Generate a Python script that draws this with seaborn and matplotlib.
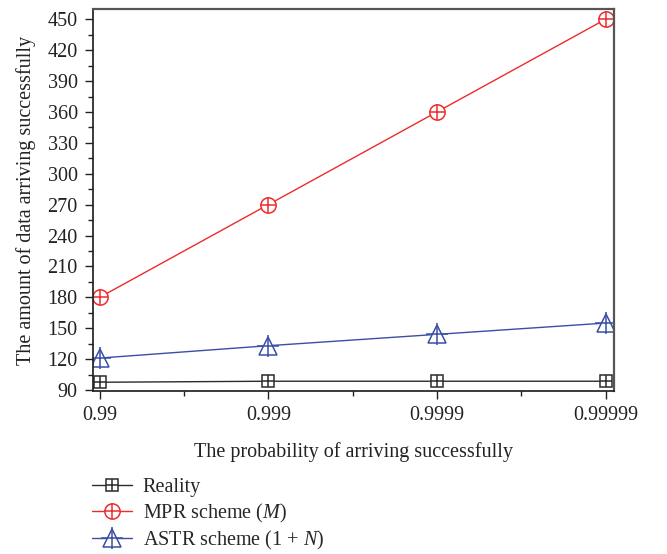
import numpy as np
import pandas as pd
import matplotlib
matplotlib.use('Agg')
import matplotlib.pyplot as plt
import seaborn as sns
from matplotlib.legend_handler import HandlerTuple
from matplotlib.ticker import MultipleLocator

# Data
probabilities = ['0.99', '0.999', '0.9999', '0.99999']
reality = [97.5, 98.5, 98.5, 98.5]
mpr = [180, 270, 360, 450]
astr = [121, 133, 144, 155]

series_names = ['Reality', 'MPR scheme ($M$)', 'ASTR scheme (1 + $N$)']
series_values = [reality, mpr, astr]
colors = ['#2b2b2b', '#ee2b2b', '#3a4ea6']
markers = ['s', 'o', '^']
msizes = [9, 11, 12.5]

sns.set_theme(style='ticks')
plt.rcParams['font.family'] = ['Liberation Serif', 'DejaVu Serif']
plt.rcParams['mathtext.fontset'] = 'custom'
plt.rcParams['mathtext.it'] = 'Liberation Serif:italic'
plt.rcParams['mathtext.rm'] = 'Liberation Serif'

fig = plt.figure(figsize=(6.67, 5.54), dpi=100)
ax = fig.add_axes([0.1394, 0.2942, 0.7811, 0.6896])

x = np.arange(len(probabilities))
handles = []
for name, vals, c, m, ms in zip(series_names, series_values, colors, markers, msizes):
    df = pd.DataFrame({'x': x, 'y': vals})
    sns.lineplot(data=df, x='x', y='y', ax=ax, color=c, linewidth=1.0,
                 marker=m, markersize=ms, markerfacecolor='white',
                 markeredgecolor=c, markeredgewidth=1.1)
    line = ax.lines[-1]
    plus, = ax.plot(df['x'], df['y'], linestyle='none', marker='+',
                    markersize=ms * (1.25 if m == '^' else 1.0),
                    color=c, markeredgewidth=1.1)
    handles.append((line, plus))

ax.set_xlim(-0.04, 3.05)
ax.set_ylim(89, 460)
ax.set_xticks(x)
ax.set_xticklabels(probabilities)
ax.xaxis.set_minor_locator(MultipleLocator(0.5))
ax.yaxis.set_major_locator(MultipleLocator(30))
ax.yaxis.set_minor_locator(MultipleLocator(15))
ax.tick_params(axis='both', which='major', direction='out', length=6, width=1,
               labelsize=14.5, colors='#222222', pad=5)
ax.tick_params(axis='both', which='minor', direction='out', length=3.5, width=1,
               colors='#222222')
for side in ['left', 'bottom']:
    ax.spines[side].set_color('#222222')
for side in ['top', 'right']:
    ax.spines[side].set_color('#555555')
    ax.spines[side].set_linewidth(1.6)

ax.set_xlabel('The probability of arriving successfully', fontsize=14.5,
              color='#222222', labelpad=12)
ax.set_ylabel('The amount of data arriving successfully', fontsize=14.5,
              color='#222222', labelpad=8)

fig.legend(handles, series_names, handler_map={tuple: HandlerTuple(ndivide=1)},
           loc='upper left', bbox_to_anchor=(0.111, 0.170), frameon=False,
           fontsize=14.5, handlelength=2.0, handletextpad=0.5, labelspacing=0.22)

plt.savefig('out.png', dpi=100)
plt.close()
